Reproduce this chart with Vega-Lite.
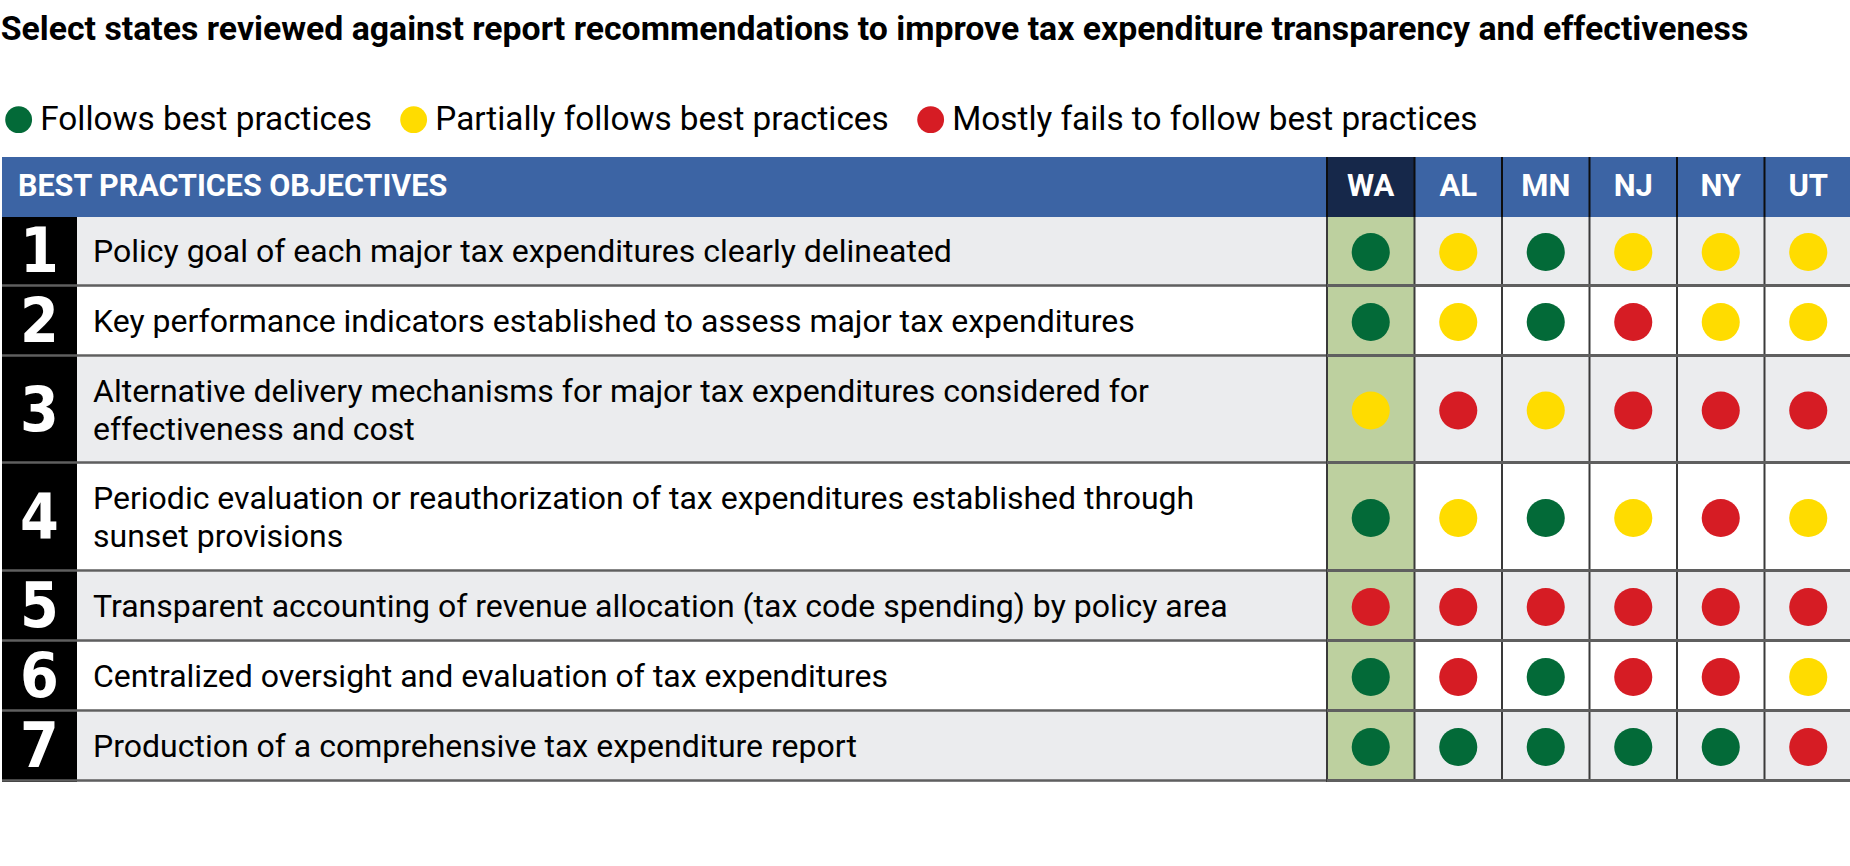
{
  "$schema": "https://vega.github.io/schema/vega-lite/v6.json",
  "background": "white",
  "padding": {"left": 0, "top": 13, "right": 0, "bottom": 0},
  "title": {"text": "Select states reviewed against report recommendations to improve tax expenditure transparency and effectiveness", "anchor": "start", "font": "Roboto", "fontSize": 33.8, "fontWeight": "bold", "color": "#000000", "offset": 56},
  "datasets": {
    "objectives": [
      {"n": 1, "objective": "Policy goal of each major tax expenditures clearly delineated"},
      {"n": 2, "objective": "Key performance indicators established to assess major tax expenditures"},
      {"n": 3, "objective": "Alternative delivery mechanisms for major tax expenditures considered for\neffectiveness and cost"},
      {"n": 4, "objective": "Periodic evaluation or reauthorization of tax expenditures established through\nsunset provisions"},
      {"n": 5, "objective": "Transparent accounting of revenue allocation (tax code spending) by policy area"},
      {"n": 6, "objective": "Centralized oversight and evaluation of tax expenditures"},
      {"n": 7, "objective": "Production of a comprehensive tax expenditure report"}
    ],
    "ratings": [
      {"n": 1, "state": "WA", "rating": "Follows best practices"},
      {"n": 1, "state": "AL", "rating": "Partially follows best practices"},
      {"n": 1, "state": "MN", "rating": "Follows best practices"},
      {"n": 1, "state": "NJ", "rating": "Partially follows best practices"},
      {"n": 1, "state": "NY", "rating": "Partially follows best practices"},
      {"n": 1, "state": "UT", "rating": "Partially follows best practices"},
      {"n": 2, "state": "WA", "rating": "Follows best practices"},
      {"n": 2, "state": "AL", "rating": "Partially follows best practices"},
      {"n": 2, "state": "MN", "rating": "Follows best practices"},
      {"n": 2, "state": "NJ", "rating": "Mostly fails to follow best practices"},
      {"n": 2, "state": "NY", "rating": "Partially follows best practices"},
      {"n": 2, "state": "UT", "rating": "Partially follows best practices"},
      {"n": 3, "state": "WA", "rating": "Partially follows best practices"},
      {"n": 3, "state": "AL", "rating": "Mostly fails to follow best practices"},
      {"n": 3, "state": "MN", "rating": "Partially follows best practices"},
      {"n": 3, "state": "NJ", "rating": "Mostly fails to follow best practices"},
      {"n": 3, "state": "NY", "rating": "Mostly fails to follow best practices"},
      {"n": 3, "state": "UT", "rating": "Mostly fails to follow best practices"},
      {"n": 4, "state": "WA", "rating": "Follows best practices"},
      {"n": 4, "state": "AL", "rating": "Partially follows best practices"},
      {"n": 4, "state": "MN", "rating": "Follows best practices"},
      {"n": 4, "state": "NJ", "rating": "Partially follows best practices"},
      {"n": 4, "state": "NY", "rating": "Mostly fails to follow best practices"},
      {"n": 4, "state": "UT", "rating": "Partially follows best practices"},
      {"n": 5, "state": "WA", "rating": "Mostly fails to follow best practices"},
      {"n": 5, "state": "AL", "rating": "Mostly fails to follow best practices"},
      {"n": 5, "state": "MN", "rating": "Mostly fails to follow best practices"},
      {"n": 5, "state": "NJ", "rating": "Mostly fails to follow best practices"},
      {"n": 5, "state": "NY", "rating": "Mostly fails to follow best practices"},
      {"n": 5, "state": "UT", "rating": "Mostly fails to follow best practices"},
      {"n": 6, "state": "WA", "rating": "Follows best practices"},
      {"n": 6, "state": "AL", "rating": "Mostly fails to follow best practices"},
      {"n": 6, "state": "MN", "rating": "Follows best practices"},
      {"n": 6, "state": "NJ", "rating": "Mostly fails to follow best practices"},
      {"n": 6, "state": "NY", "rating": "Mostly fails to follow best practices"},
      {"n": 6, "state": "UT", "rating": "Partially follows best practices"},
      {"n": 7, "state": "WA", "rating": "Follows best practices"},
      {"n": 7, "state": "AL", "rating": "Follows best practices"},
      {"n": 7, "state": "MN", "rating": "Follows best practices"},
      {"n": 7, "state": "NJ", "rating": "Follows best practices"},
      {"n": 7, "state": "NY", "rating": "Follows best practices"},
      {"n": 7, "state": "UT", "rating": "Mostly fails to follow best practices"}
    ]
  },
  "columns": 3,
  "spacing": 0,
  "bounds": "flush",
  "concat": [
    {"width": 75, "height": 60, "view": {"fill": "#3c64a4", "stroke": null},
     "data": {"values": [{"label": ""}]},
     "mark": {"type": "text", "color": "#ffffff"},
     "encoding": {"text": {"field": "label", "type": "nominal"}}},
    {"width": 1250, "height": 60, "view": {"fill": "#3c64a4", "stroke": null},
     "data": {"values": [{"label": "BEST PRACTICES OBJECTIVES"}]},
     "mark": {"type": "text", "align": "left", "baseline": "middle", "dx": -59, "font": "Roboto", "fontSize": 30.5, "fontWeight": "bold", "color": "#ffffff"},
     "encoding": {"text": {"field": "label", "type": "nominal"}, "x": {"datum": 0, "type": "quantitative", "scale": {"domain": [0, 1]}, "axis": null}}},
    {"width": 525, "height": 60, "view": {"fill": "#3c64a4", "stroke": null},
     "data": {"name": "ratings"}, "transform": [{"filter": "datum.n === 1"}],
     "layer": [
       {"mark": {"type": "rect"}, "encoding": {"x": {"field": "state", "type": "nominal", "scale": {"domain": ["WA","AL","MN","NJ","NY","UT"], "paddingInner": 0, "paddingOuter": 0}, "axis": null}, "fill": {"condition": {"test": "datum.state === 'WA'", "value": "#16284a"}, "value": "#3c64a4"}}},
       {"mark": {"type": "rule", "color": "#0d0d0d", "strokeWidth": 2}, "encoding": {"x": {"field": "state", "type": "nominal", "bandPosition": 0, "scale": {"domain": ["WA","AL","MN","NJ","NY","UT"], "paddingInner": 0, "paddingOuter": 0}, "axis": null}}},
       {"mark": {"type": "text", "align": "center", "baseline": "middle", "font": "Roboto", "fontSize": 31, "fontWeight": "bold", "color": "#ffffff"}, "encoding": {"x": {"field": "state", "type": "nominal", "scale": {"domain": ["WA","AL","MN","NJ","NY","UT"], "paddingInner": 0, "paddingOuter": 0}, "axis": null}, "text": {"field": "state", "type": "nominal"}}}
     ]},

    {"width": 75, "height": 70, "view": {"fill": "#000000", "stroke": null}, "data": {"name": "objectives"}, "transform": [{"filter": "datum.n === 1"}],
     "layer": [
       {"mark": {"type": "text", "font": "Liberation Sans Narrow, DejaVu Sans Condensed, sans-serif", "fontSize": 62, "fontWeight": "bold", "color": "#ffffff", "baseline": "middle", "align": "center", "dy": 1}, "encoding": {"text": {"field": "n", "type": "nominal"}}},
       {"mark": {"type": "rule", "color": "#5f5f5f", "strokeWidth": 2.5}, "encoding": {"y": {"datum": 0, "type": "quantitative", "scale": {"domain": [-0.022, 1]}, "axis": null}}}
     ]},
    {"width": 1250, "height": 70, "view": {"fill": "#ebecee", "stroke": null}, "data": {"name": "objectives"}, "transform": [{"filter": "datum.n === 1"}],
     "layer": [
       {"mark": {"type": "text", "font": "Roboto", "fontSize": 32, "color": "#000000", "align": "left", "baseline": "middle", "dx": 16, "lineBreak": "\n", "lineHeight": 38}, "encoding": {"text": {"field": "objective", "type": "nominal"}, "x": {"datum": 0, "type": "quantitative", "scale": {"domain": [0, 1]}, "axis": null}}},
       {"mark": {"type": "rule", "color": "#5f5f5f", "strokeWidth": 2.5}, "encoding": {"y": {"datum": 0, "type": "quantitative", "scale": {"domain": [-0.022, 1]}, "axis": null}}}
     ]},
    {"width": 525, "height": 70, "view": {"fill": "#ebecee", "stroke": null}, "data": {"name": "ratings"}, "transform": [{"filter": "datum.n === 1"}],
     "layer": [
       {"transform": [{"filter": "datum.state === 'WA'"}], "mark": {"type": "rect", "color": "#bdd09f"}, "encoding": {"x": {"field": "state", "type": "nominal", "scale": {"domain": ["WA","AL","MN","NJ","NY","UT"], "paddingInner": 0, "paddingOuter": 0}, "axis": null}}},
       {"mark": {"type": "rule", "color": "#3a3a3a", "strokeWidth": 2}, "encoding": {"x": {"field": "state", "type": "nominal", "bandPosition": 0, "scale": {"domain": ["WA","AL","MN","NJ","NY","UT"], "paddingInner": 0, "paddingOuter": 0}, "axis": null}}},
       {"mark": {"type": "rule", "color": "#5f5f5f", "strokeWidth": 2.5}, "encoding": {"y": {"datum": 0, "type": "quantitative", "scale": {"domain": [-0.022, 1]}, "axis": null}}},
       {"mark": {"type": "point", "shape": "circle", "filled": true, "size": 1450, "opacity": 1}, "encoding": {"x": {"field": "state", "type": "nominal", "scale": {"domain": ["WA","AL","MN","NJ","NY","UT"], "paddingInner": 0, "paddingOuter": 0}, "axis": null}, "color": {"field": "rating", "type": "nominal", "scale": {"domain": ["Follows best practices", "Partially follows best practices", "Mostly fails to follow best practices"], "range": ["#036a38", "#ffdc00", "#d61c24"]}, "legend": {"orient": "top", "direction": "horizontal", "title": null, "symbolType": "circle", "symbolSize": 720, "symbolStrokeWidth": 0, "symbolOpacity": 1, "labelFont": "Roboto", "labelFontSize": 33.3, "labelColor": "#000000", "labelOffset": 5, "columnPadding": 25, "offset": 20, "padding": 0, "labelLimit": 0}}}}
     ]},

    {"width": 75, "height": 70, "view": {"fill": "#000000", "stroke": null}, "data": {"name": "objectives"}, "transform": [{"filter": "datum.n === 2"}],
     "layer": [
       {"mark": {"type": "text", "font": "Liberation Sans Narrow, DejaVu Sans Condensed, sans-serif", "fontSize": 62, "fontWeight": "bold", "color": "#ffffff", "baseline": "middle", "align": "center", "dy": 1}, "encoding": {"text": {"field": "n", "type": "nominal"}}},
       {"mark": {"type": "rule", "color": "#5f5f5f", "strokeWidth": 2.5}, "encoding": {"y": {"datum": 0, "type": "quantitative", "scale": {"domain": [-0.022, 1]}, "axis": null}}}
     ]},
    {"width": 1250, "height": 70, "view": {"fill": "#ffffff", "stroke": null}, "data": {"name": "objectives"}, "transform": [{"filter": "datum.n === 2"}],
     "layer": [
       {"mark": {"type": "text", "font": "Roboto", "fontSize": 32, "color": "#000000", "align": "left", "baseline": "middle", "dx": 16, "lineBreak": "\n", "lineHeight": 38}, "encoding": {"text": {"field": "objective", "type": "nominal"}, "x": {"datum": 0, "type": "quantitative", "scale": {"domain": [0, 1]}, "axis": null}}},
       {"mark": {"type": "rule", "color": "#5f5f5f", "strokeWidth": 2.5}, "encoding": {"y": {"datum": 0, "type": "quantitative", "scale": {"domain": [-0.022, 1]}, "axis": null}}}
     ]},
    {"width": 525, "height": 70, "view": {"fill": "#ffffff", "stroke": null}, "data": {"name": "ratings"}, "transform": [{"filter": "datum.n === 2"}],
     "layer": [
       {"transform": [{"filter": "datum.state === 'WA'"}], "mark": {"type": "rect", "color": "#bdd09f"}, "encoding": {"x": {"field": "state", "type": "nominal", "scale": {"domain": ["WA","AL","MN","NJ","NY","UT"], "paddingInner": 0, "paddingOuter": 0}, "axis": null}}},
       {"mark": {"type": "rule", "color": "#3a3a3a", "strokeWidth": 2}, "encoding": {"x": {"field": "state", "type": "nominal", "bandPosition": 0, "scale": {"domain": ["WA","AL","MN","NJ","NY","UT"], "paddingInner": 0, "paddingOuter": 0}, "axis": null}}},
       {"mark": {"type": "rule", "color": "#5f5f5f", "strokeWidth": 2.5}, "encoding": {"y": {"datum": 0, "type": "quantitative", "scale": {"domain": [-0.022, 1]}, "axis": null}}},
       {"mark": {"type": "point", "shape": "circle", "filled": true, "size": 1450, "opacity": 1}, "encoding": {"x": {"field": "state", "type": "nominal", "scale": {"domain": ["WA","AL","MN","NJ","NY","UT"], "paddingInner": 0, "paddingOuter": 0}, "axis": null}, "color": {"field": "rating", "type": "nominal", "scale": {"domain": ["Follows best practices", "Partially follows best practices", "Mostly fails to follow best practices"], "range": ["#036a38", "#ffdc00", "#d61c24"]}}}}
     ]},

    {"width": 75, "height": 107, "view": {"fill": "#000000", "stroke": null}, "data": {"name": "objectives"}, "transform": [{"filter": "datum.n === 3"}],
     "layer": [
       {"mark": {"type": "text", "font": "Liberation Sans Narrow, DejaVu Sans Condensed, sans-serif", "fontSize": 62, "fontWeight": "bold", "color": "#ffffff", "baseline": "middle", "align": "center", "dy": 1}, "encoding": {"text": {"field": "n", "type": "nominal"}}},
       {"mark": {"type": "rule", "color": "#5f5f5f", "strokeWidth": 2.5}, "encoding": {"y": {"datum": 0, "type": "quantitative", "scale": {"domain": [-0.014, 1]}, "axis": null}}}
     ]},
    {"width": 1250, "height": 107, "view": {"fill": "#ebecee", "stroke": null}, "data": {"name": "objectives"}, "transform": [{"filter": "datum.n === 3"}],
     "layer": [
       {"mark": {"type": "text", "font": "Roboto", "fontSize": 32, "color": "#000000", "align": "left", "baseline": "middle", "dx": 16, "dy": -19, "lineBreak": "\n", "lineHeight": 38}, "encoding": {"text": {"field": "objective", "type": "nominal"}, "x": {"datum": 0, "type": "quantitative", "scale": {"domain": [0, 1]}, "axis": null}}},
       {"mark": {"type": "rule", "color": "#5f5f5f", "strokeWidth": 2.5}, "encoding": {"y": {"datum": 0, "type": "quantitative", "scale": {"domain": [-0.014, 1]}, "axis": null}}}
     ]},
    {"width": 525, "height": 107, "view": {"fill": "#ebecee", "stroke": null}, "data": {"name": "ratings"}, "transform": [{"filter": "datum.n === 3"}],
     "layer": [
       {"transform": [{"filter": "datum.state === 'WA'"}], "mark": {"type": "rect", "color": "#bdd09f"}, "encoding": {"x": {"field": "state", "type": "nominal", "scale": {"domain": ["WA","AL","MN","NJ","NY","UT"], "paddingInner": 0, "paddingOuter": 0}, "axis": null}}},
       {"mark": {"type": "rule", "color": "#3a3a3a", "strokeWidth": 2}, "encoding": {"x": {"field": "state", "type": "nominal", "bandPosition": 0, "scale": {"domain": ["WA","AL","MN","NJ","NY","UT"], "paddingInner": 0, "paddingOuter": 0}, "axis": null}}},
       {"mark": {"type": "rule", "color": "#5f5f5f", "strokeWidth": 2.5}, "encoding": {"y": {"datum": 0, "type": "quantitative", "scale": {"domain": [-0.014, 1]}, "axis": null}}},
       {"mark": {"type": "point", "shape": "circle", "filled": true, "size": 1450, "opacity": 1}, "encoding": {"x": {"field": "state", "type": "nominal", "scale": {"domain": ["WA","AL","MN","NJ","NY","UT"], "paddingInner": 0, "paddingOuter": 0}, "axis": null}, "color": {"field": "rating", "type": "nominal", "scale": {"domain": ["Follows best practices", "Partially follows best practices", "Mostly fails to follow best practices"], "range": ["#036a38", "#ffdc00", "#d61c24"]}}}}
     ]},

    {"width": 75, "height": 108, "view": {"fill": "#000000", "stroke": null}, "data": {"name": "objectives"}, "transform": [{"filter": "datum.n === 4"}],
     "layer": [
       {"mark": {"type": "text", "font": "Liberation Sans Narrow, DejaVu Sans Condensed, sans-serif", "fontSize": 62, "fontWeight": "bold", "color": "#ffffff", "baseline": "middle", "align": "center", "dy": 1}, "encoding": {"text": {"field": "n", "type": "nominal"}}},
       {"mark": {"type": "rule", "color": "#5f5f5f", "strokeWidth": 2.5}, "encoding": {"y": {"datum": 0, "type": "quantitative", "scale": {"domain": [-0.014, 1]}, "axis": null}}}
     ]},
    {"width": 1250, "height": 108, "view": {"fill": "#ffffff", "stroke": null}, "data": {"name": "objectives"}, "transform": [{"filter": "datum.n === 4"}],
     "layer": [
       {"mark": {"type": "text", "font": "Roboto", "fontSize": 32, "color": "#000000", "align": "left", "baseline": "middle", "dx": 16, "dy": -19, "lineBreak": "\n", "lineHeight": 38}, "encoding": {"text": {"field": "objective", "type": "nominal"}, "x": {"datum": 0, "type": "quantitative", "scale": {"domain": [0, 1]}, "axis": null}}},
       {"mark": {"type": "rule", "color": "#5f5f5f", "strokeWidth": 2.5}, "encoding": {"y": {"datum": 0, "type": "quantitative", "scale": {"domain": [-0.014, 1]}, "axis": null}}}
     ]},
    {"width": 525, "height": 108, "view": {"fill": "#ffffff", "stroke": null}, "data": {"name": "ratings"}, "transform": [{"filter": "datum.n === 4"}],
     "layer": [
       {"transform": [{"filter": "datum.state === 'WA'"}], "mark": {"type": "rect", "color": "#bdd09f"}, "encoding": {"x": {"field": "state", "type": "nominal", "scale": {"domain": ["WA","AL","MN","NJ","NY","UT"], "paddingInner": 0, "paddingOuter": 0}, "axis": null}}},
       {"mark": {"type": "rule", "color": "#3a3a3a", "strokeWidth": 2}, "encoding": {"x": {"field": "state", "type": "nominal", "bandPosition": 0, "scale": {"domain": ["WA","AL","MN","NJ","NY","UT"], "paddingInner": 0, "paddingOuter": 0}, "axis": null}}},
       {"mark": {"type": "rule", "color": "#5f5f5f", "strokeWidth": 2.5}, "encoding": {"y": {"datum": 0, "type": "quantitative", "scale": {"domain": [-0.014, 1]}, "axis": null}}},
       {"mark": {"type": "point", "shape": "circle", "filled": true, "size": 1450, "opacity": 1}, "encoding": {"x": {"field": "state", "type": "nominal", "scale": {"domain": ["WA","AL","MN","NJ","NY","UT"], "paddingInner": 0, "paddingOuter": 0}, "axis": null}, "color": {"field": "rating", "type": "nominal", "scale": {"domain": ["Follows best practices", "Partially follows best practices", "Mostly fails to follow best practices"], "range": ["#036a38", "#ffdc00", "#d61c24"]}}}}
     ]},

    {"width": 75, "height": 70, "view": {"fill": "#000000", "stroke": null}, "data": {"name": "objectives"}, "transform": [{"filter": "datum.n === 5"}],
     "layer": [
       {"mark": {"type": "text", "font": "Liberation Sans Narrow, DejaVu Sans Condensed, sans-serif", "fontSize": 62, "fontWeight": "bold", "color": "#ffffff", "baseline": "middle", "align": "center", "dy": 1}, "encoding": {"text": {"field": "n", "type": "nominal"}}},
       {"mark": {"type": "rule", "color": "#5f5f5f", "strokeWidth": 2.5}, "encoding": {"y": {"datum": 0, "type": "quantitative", "scale": {"domain": [-0.022, 1]}, "axis": null}}}
     ]},
    {"width": 1250, "height": 70, "view": {"fill": "#ebecee", "stroke": null}, "data": {"name": "objectives"}, "transform": [{"filter": "datum.n === 5"}],
     "layer": [
       {"mark": {"type": "text", "font": "Roboto", "fontSize": 32, "color": "#000000", "align": "left", "baseline": "middle", "dx": 16, "lineBreak": "\n", "lineHeight": 38}, "encoding": {"text": {"field": "objective", "type": "nominal"}, "x": {"datum": 0, "type": "quantitative", "scale": {"domain": [0, 1]}, "axis": null}}},
       {"mark": {"type": "rule", "color": "#5f5f5f", "strokeWidth": 2.5}, "encoding": {"y": {"datum": 0, "type": "quantitative", "scale": {"domain": [-0.022, 1]}, "axis": null}}}
     ]},
    {"width": 525, "height": 70, "view": {"fill": "#ebecee", "stroke": null}, "data": {"name": "ratings"}, "transform": [{"filter": "datum.n === 5"}],
     "layer": [
       {"transform": [{"filter": "datum.state === 'WA'"}], "mark": {"type": "rect", "color": "#bdd09f"}, "encoding": {"x": {"field": "state", "type": "nominal", "scale": {"domain": ["WA","AL","MN","NJ","NY","UT"], "paddingInner": 0, "paddingOuter": 0}, "axis": null}}},
       {"mark": {"type": "rule", "color": "#3a3a3a", "strokeWidth": 2}, "encoding": {"x": {"field": "state", "type": "nominal", "bandPosition": 0, "scale": {"domain": ["WA","AL","MN","NJ","NY","UT"], "paddingInner": 0, "paddingOuter": 0}, "axis": null}}},
       {"mark": {"type": "rule", "color": "#5f5f5f", "strokeWidth": 2.5}, "encoding": {"y": {"datum": 0, "type": "quantitative", "scale": {"domain": [-0.022, 1]}, "axis": null}}},
       {"mark": {"type": "point", "shape": "circle", "filled": true, "size": 1450, "opacity": 1}, "encoding": {"x": {"field": "state", "type": "nominal", "scale": {"domain": ["WA","AL","MN","NJ","NY","UT"], "paddingInner": 0, "paddingOuter": 0}, "axis": null}, "color": {"field": "rating", "type": "nominal", "scale": {"domain": ["Follows best practices", "Partially follows best practices", "Mostly fails to follow best practices"], "range": ["#036a38", "#ffdc00", "#d61c24"]}}}}
     ]},

    {"width": 75, "height": 70, "view": {"fill": "#000000", "stroke": null}, "data": {"name": "objectives"}, "transform": [{"filter": "datum.n === 6"}],
     "layer": [
       {"mark": {"type": "text", "font": "Liberation Sans Narrow, DejaVu Sans Condensed, sans-serif", "fontSize": 62, "fontWeight": "bold", "color": "#ffffff", "baseline": "middle", "align": "center", "dy": 1}, "encoding": {"text": {"field": "n", "type": "nominal"}}},
       {"mark": {"type": "rule", "color": "#5f5f5f", "strokeWidth": 2.5}, "encoding": {"y": {"datum": 0, "type": "quantitative", "scale": {"domain": [-0.022, 1]}, "axis": null}}}
     ]},
    {"width": 1250, "height": 70, "view": {"fill": "#ffffff", "stroke": null}, "data": {"name": "objectives"}, "transform": [{"filter": "datum.n === 6"}],
     "layer": [
       {"mark": {"type": "text", "font": "Roboto", "fontSize": 32, "color": "#000000", "align": "left", "baseline": "middle", "dx": 16, "lineBreak": "\n", "lineHeight": 38}, "encoding": {"text": {"field": "objective", "type": "nominal"}, "x": {"datum": 0, "type": "quantitative", "scale": {"domain": [0, 1]}, "axis": null}}},
       {"mark": {"type": "rule", "color": "#5f5f5f", "strokeWidth": 2.5}, "encoding": {"y": {"datum": 0, "type": "quantitative", "scale": {"domain": [-0.022, 1]}, "axis": null}}}
     ]},
    {"width": 525, "height": 70, "view": {"fill": "#ffffff", "stroke": null}, "data": {"name": "ratings"}, "transform": [{"filter": "datum.n === 6"}],
     "layer": [
       {"transform": [{"filter": "datum.state === 'WA'"}], "mark": {"type": "rect", "color": "#bdd09f"}, "encoding": {"x": {"field": "state", "type": "nominal", "scale": {"domain": ["WA","AL","MN","NJ","NY","UT"], "paddingInner": 0, "paddingOuter": 0}, "axis": null}}},
       {"mark": {"type": "rule", "color": "#3a3a3a", "strokeWidth": 2}, "encoding": {"x": {"field": "state", "type": "nominal", "bandPosition": 0, "scale": {"domain": ["WA","AL","MN","NJ","NY","UT"], "paddingInner": 0, "paddingOuter": 0}, "axis": null}}},
       {"mark": {"type": "rule", "color": "#5f5f5f", "strokeWidth": 2.5}, "encoding": {"y": {"datum": 0, "type": "quantitative", "scale": {"domain": [-0.022, 1]}, "axis": null}}},
       {"mark": {"type": "point", "shape": "circle", "filled": true, "size": 1450, "opacity": 1}, "encoding": {"x": {"field": "state", "type": "nominal", "scale": {"domain": ["WA","AL","MN","NJ","NY","UT"], "paddingInner": 0, "paddingOuter": 0}, "axis": null}, "color": {"field": "rating", "type": "nominal", "scale": {"domain": ["Follows best practices", "Partially follows best practices", "Mostly fails to follow best practices"], "range": ["#036a38", "#ffdc00", "#d61c24"]}}}}
     ]},

    {"width": 75, "height": 70, "view": {"fill": "#000000", "stroke": null}, "data": {"name": "objectives"}, "transform": [{"filter": "datum.n === 7"}],
     "layer": [
       {"mark": {"type": "text", "font": "Liberation Sans Narrow, DejaVu Sans Condensed, sans-serif", "fontSize": 62, "fontWeight": "bold", "color": "#ffffff", "baseline": "middle", "align": "center", "dy": 1}, "encoding": {"text": {"field": "n", "type": "nominal"}}},
       {"mark": {"type": "rule", "color": "#5f5f5f", "strokeWidth": 2.5}, "encoding": {"y": {"datum": 0, "type": "quantitative", "scale": {"domain": [-0.022, 1]}, "axis": null}}}
     ]},
    {"width": 1250, "height": 70, "view": {"fill": "#ebecee", "stroke": null}, "data": {"name": "objectives"}, "transform": [{"filter": "datum.n === 7"}],
     "layer": [
       {"mark": {"type": "text", "font": "Roboto", "fontSize": 32, "color": "#000000", "align": "left", "baseline": "middle", "dx": 16, "lineBreak": "\n", "lineHeight": 38}, "encoding": {"text": {"field": "objective", "type": "nominal"}, "x": {"datum": 0, "type": "quantitative", "scale": {"domain": [0, 1]}, "axis": null}}},
       {"mark": {"type": "rule", "color": "#5f5f5f", "strokeWidth": 2.5}, "encoding": {"y": {"datum": 0, "type": "quantitative", "scale": {"domain": [-0.022, 1]}, "axis": null}}}
     ]},
    {"width": 525, "height": 70, "view": {"fill": "#ebecee", "stroke": null}, "data": {"name": "ratings"}, "transform": [{"filter": "datum.n === 7"}],
     "layer": [
       {"transform": [{"filter": "datum.state === 'WA'"}], "mark": {"type": "rect", "color": "#bdd09f"}, "encoding": {"x": {"field": "state", "type": "nominal", "scale": {"domain": ["WA","AL","MN","NJ","NY","UT"], "paddingInner": 0, "paddingOuter": 0}, "axis": null}}},
       {"mark": {"type": "rule", "color": "#3a3a3a", "strokeWidth": 2}, "encoding": {"x": {"field": "state", "type": "nominal", "bandPosition": 0, "scale": {"domain": ["WA","AL","MN","NJ","NY","UT"], "paddingInner": 0, "paddingOuter": 0}, "axis": null}}},
       {"mark": {"type": "rule", "color": "#5f5f5f", "strokeWidth": 2.5}, "encoding": {"y": {"datum": 0, "type": "quantitative", "scale": {"domain": [-0.022, 1]}, "axis": null}}},
       {"mark": {"type": "point", "shape": "circle", "filled": true, "size": 1450, "opacity": 1}, "encoding": {"x": {"field": "state", "type": "nominal", "scale": {"domain": ["WA","AL","MN","NJ","NY","UT"], "paddingInner": 0, "paddingOuter": 0}, "axis": null}, "color": {"field": "rating", "type": "nominal", "scale": {"domain": ["Follows best practices", "Partially follows best practices", "Mostly fails to follow best practices"], "range": ["#036a38", "#ffdc00", "#d61c24"]}}}}
     ]}
  ],
  "config": {"view": {"stroke": null}, "concat": {"spacing": 0}, "point": {"strokeWidth": 0}}
}
